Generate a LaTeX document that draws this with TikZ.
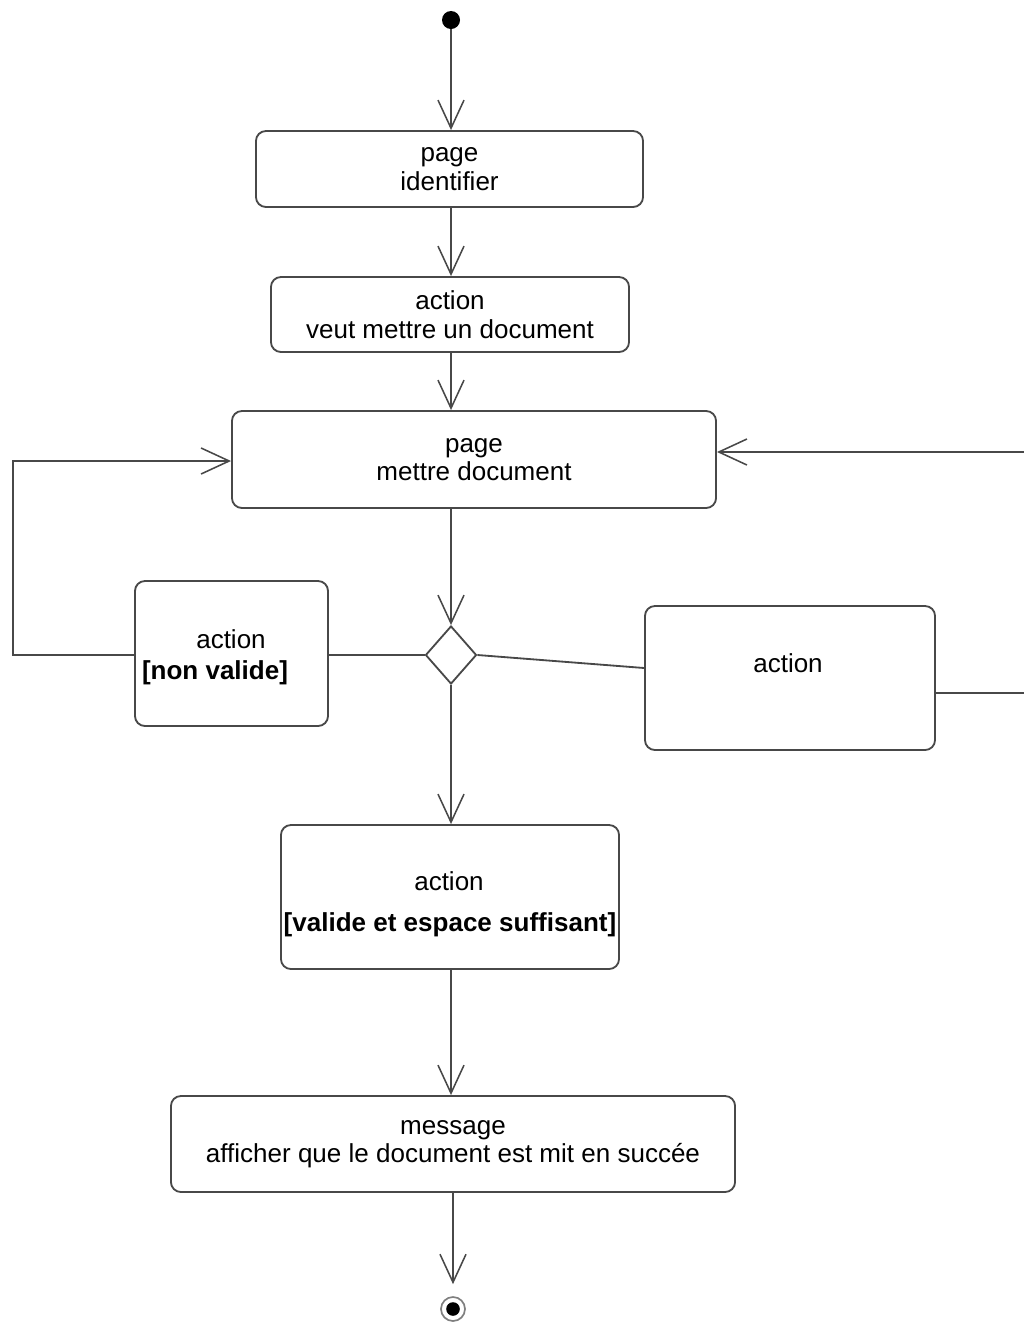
\documentclass[tikz,border=0pt]{standalone}
\usepackage{fontspec}
\setmainfont{Liberation Sans}
\usetikzlibrary{arrows.meta,shapes.geometric,calc}
\definecolor{ink}{RGB}{72,72,72}
\begin{document}
\begin{tikzpicture}[x=0.025cm,y=-0.025cm,
  every node/.style={font=\fontsize{18.5}{20.3}\selectfont},
  stepbox/.style={draw=ink, line width=1.3pt, rounded corners=0.25cm, inner sep=0pt, align=center},
  txt/.style={inner sep=0pt, align=center},
  guard/.style={inner sep=0pt, font=\fontsize{18.5}{20.3}\selectfont\bfseries},
  flow/.style={draw=ink, line width=1.3pt, -{Straight Barb[length=20pt,width=18.5pt,line width=1.1pt]}},
  link/.style={draw=ink, line width=1.3pt},
  initial/.style={circle, fill=black, inner sep=0pt, minimum size=0.45cm},
  final/.style={circle, draw=ink!70, line width=1.2pt, inner sep=0pt, minimum size=0.6cm,
    path picture={\fill[black] (path picture bounding box.center) circle (0.17cm);}},
  decision/.style={diamond, draw=ink, line width=1.3pt, inner sep=0pt, minimum width=1.275cm, minimum height=1.45cm}
]
\useasboundingbox (0,0) rectangle (1024,1322);
\clip (0,0) rectangle (1024,1322);

% nodes
\node[initial] (start) at (451,20) {};
\node[stepbox, minimum width=9.675cm, minimum height=1.9cm] (ident) at (449.5,169) {page\\identifier};
\node[stepbox, minimum width=8.95cm, minimum height=1.875cm] (veut) at (450,314.5) {action\\veut mettre un document};
\node[stepbox, minimum width=12.1cm, minimum height=2.425cm] (mettre) at (474,459.5) {page\\mettre document};
\node[decision] (dec) at (451,655) {};

\node[stepbox, minimum width=4.825cm, minimum height=3.625cm] (nv) at (231.5,653.5) {};
\node[txt] (nvt) at (231,639) {action};
\node[guard] (nvg) at (215,673) {[non valide]};

\node[stepbox, minimum width=7.25cm, minimum height=3.6cm] (ok) at (790,678) {};
\node[txt] (okt) at (788,663) {action};

\node[stepbox, minimum width=8.45cm, minimum height=3.6cm] (val) at (450,897) {};
\node[txt] (valt) at (449,881) {action};
\node[guard] (valg) at (450,925) {[valide et espace suffisant]};

\node[stepbox, minimum width=14.1cm, minimum height=2.4cm] (msg) at (453,1144) {message\\afficher que le document est mit en succée};
\node[final] (end) at (453,1309) {};

\coordinate (loopL) at (13,655);
\coordinate (loopR) at (1040,693);

% connectors
\draw[flow] (start) -- (start |- ident.north);
\draw[flow] (start |- ident.south) -- (start |- veut.north);
\draw[flow] (start |- veut.south) -- (start |- mettre.north);
\draw[flow] (start |- mettre.south) -- (dec.north);
\draw[link] (dec.west) -- (dec.west -| nv.east);
\draw[flow] (dec.west -| nv.west) -- (loopL) |- ($(mettre.west)+(0,1.5)$);
\draw[link] (dec.east) -- ($(ok.west)+(0,-10)$);
\draw[flow] ($(ok.east)+(0,15)$) -- (loopR) |- ($(mettre.east)+(0,-7.5)$);
\draw[flow] (dec.south) -- (dec |- val.north);
\draw[flow] (dec |- val.south) -- (dec |- msg.north);
\draw[flow, shorten >=0.3cm] (msg.south) -- (end.north);
\end{tikzpicture}
\end{document}
